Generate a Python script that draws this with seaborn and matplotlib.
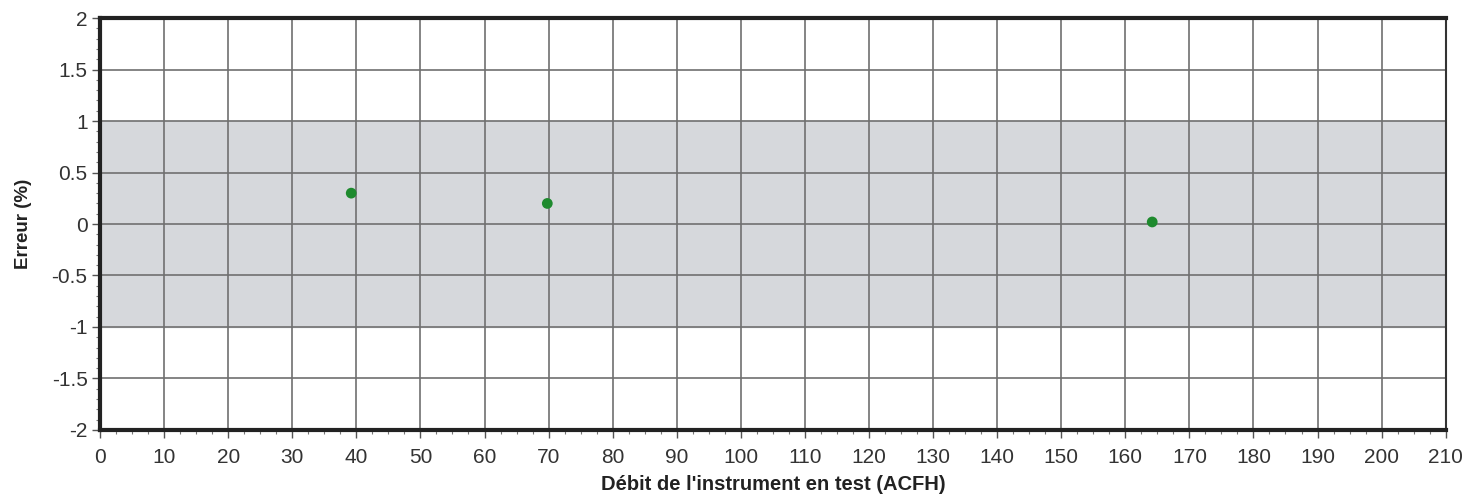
import matplotlib
matplotlib.use("Agg")
import matplotlib.pyplot as plt
from matplotlib.ticker import MultipleLocator
import seaborn as sns
import pandas as pd

# Points
debit = [39.2, 69.8, 164.2]
erreur = [0.30, 0.20, 0.02]

# Tolerance band
band_low, band_high = -1.0, 1.0

x_ticks = list(range(0, 211, 10))
y_ticks = [-2, -1.5, -1, -0.5, 0, 0.5, 1, 1.5, 2]
y_labels = ["-2", "-1.5", "-1", "-0.5", "0", "0.5", "1", "1.5", "2"]

df = pd.DataFrame({"debit": debit, "erreur": erreur})

sns.set_style("white")
plt.rcParams["font.family"] = ["Liberation Sans", "DejaVu Sans"]

fig = plt.figure(figsize=(14.82, 5.04), dpi=100)
ax = fig.add_axes([0.0675, 0.147, 0.908, 0.817])

ax.axhspan(band_low, band_high, color="#d6d8dc", zorder=0)

sns.scatterplot(data=df, x="debit", y="erreur", ax=ax, color="#1e8a2e",
                s=60, edgecolor="none", zorder=3, legend=False)

ax.set_xlim(0, 210)
ax.set_ylim(-2, 2)
ax.set_xticks(x_ticks)
ax.set_xticklabels([str(t) for t in x_ticks])
ax.set_yticks(y_ticks)
ax.set_yticklabels(y_labels)
ax.xaxis.set_minor_locator(MultipleLocator(2.5))
ax.yaxis.set_minor_locator(MultipleLocator(0.1))

ax.grid(True, which="major", color="#707070", linewidth=1.2, zorder=1)
ax.set_axisbelow(True)

ax.tick_params(axis="both", which="major", length=6, width=1, color="#555555",
               labelsize=15, labelcolor="#333333", pad=3)
ax.tick_params(axis="x", which="major", pad=7)
ax.tick_params(axis="both", which="minor", length=3, width=0.8, color="#777777")
ax.tick_params(axis="x", which="both", bottom=True)
ax.tick_params(axis="y", which="both", left=True)

for side in ["left", "bottom", "top"]:
    ax.spines[side].set_color("#222222")
    ax.spines[side].set_linewidth(3)
ax.spines["right"].set_color("#333333")
ax.spines["right"].set_linewidth(1.5)

ax.set_xlabel("Débit de l'instrument en test (ACFH)", fontsize=14.5,
              fontweight="bold", color="#222222", labelpad=6)
ax.set_ylabel("Erreur (%)", fontsize=13.5, fontweight="bold",
              color="#222222", labelpad=14)

fig.savefig("out.png", dpi=100)
plt.close(fig)
